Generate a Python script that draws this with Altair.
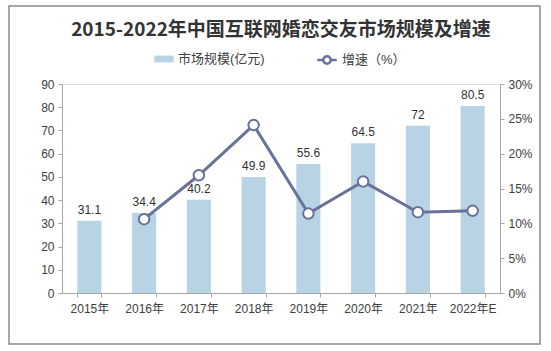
import altair as alt
import pandas as pd

years = ["2015年", "2016年", "2017年", "2018年", "2019年", "2020年", "2021年", "2022年E"]
market = [31.1, 34.4, 40.2, 49.9, 55.6, 64.5, 72, 80.5]
growth = [None, 0.106, 0.169, 0.241, 0.114, 0.160, 0.116, 0.118]

df = pd.DataFrame({"year": years, "market": market, "growth": growth,
                   "s1": "市场规模(亿元)", "s2": "增速（%）"})

FONT = "Liberation Sans, Noto Sans CJK SC, sans-serif"
BAR = "#b8d3e4"
LINE = "#68729a"
AX = "#a6a6a6"

frame = alt.Chart(pd.DataFrame({"k": [0]})).mark_rect(
    fill="transparent", stroke="#8a8a8a", strokeWidth=1.5).encode(
    x=alt.value(-53), x2=alt.value(478), y=alt.value(-78), y2=alt.value(260))

x = alt.X("year:N", sort=years, title=None,
          scale=alt.Scale(paddingInner=0.56, paddingOuter=0.28),
          axis=alt.Axis(labelAngle=0, labelFontSize=12, labelColor="#404040", labelFont=FONT,
                        domainColor=AX, tickColor=AX, tickSize=4, tickBand="extent",
                        labelPadding=6))

yl = alt.Y("market:Q", title=None,
           scale=alt.Scale(domain=[0, 90], nice=False),
           axis=alt.Axis(values=list(range(0, 91, 10)), grid=False, labelFontSize=12,
                         labelColor="#404040", labelFont=FONT, domainColor=AX,
                         tickColor=AX, tickSize=4, labelPadding=4))

bars = alt.Chart(df).mark_bar(color=BAR).encode(
    x=x,
    y=yl,
    fill=alt.Fill("s1:N", scale=alt.Scale(range=[BAR]), title=None,
                  legend=alt.Legend(orient="none", legendX=92, legendY=-35,
                                    symbolType="M-1,-0.35H1V0.35H-1Z", symbolSize=380,
                                    symbolStrokeWidth=0, labelFontSize=13, labelFont=FONT,
                                    labelColor="#404040")),
)

labels = alt.Chart(df).mark_text(dy=-11, fontSize=12, font=FONT, color="#333333").encode(
    x=alt.X("year:N", sort=years),
    y=yl,
    text=alt.Text("market:Q"),
)

left = alt.layer(bars, labels)

yr = alt.Y("growth:Q", title=None,
           scale=alt.Scale(domain=[0, 0.3], nice=False),
           axis=alt.Axis(orient="right", format=".0%", values=[0, 0.05, 0.1, 0.15, 0.2, 0.25, 0.3],
                         grid=False, labelFontSize=12, labelColor="#404040", labelFont=FONT,
                         domainColor=AX, tickColor=AX, tickSize=4, labelPadding=4))

line = alt.Chart(df).mark_line(strokeWidth=3, color=LINE).encode(
    x=alt.X("year:N", sort=years),
    y=yr,
    stroke=alt.Stroke("s2:N", scale=alt.Scale(range=[LINE]), title=None,
                      legend=alt.Legend(orient="none", legendX=254, legendY=-35,
                                        symbolType="M-1,0H-0.38M0.38,0H1M0.38,0A0.38,0.38,0,1,1,-0.38,0A0.38,0.38,0,1,1,0.38,0Z",
                                        symbolSize=380, symbolStrokeWidth=2.5,
                                        symbolFillColor="white",
                                        labelFontSize=13, labelFont=FONT, labelColor="#404040")),
)

points = alt.Chart(df).mark_point(filled=True, fill="white", stroke=LINE, strokeWidth=2,
                                  size=110, opacity=1).encode(
    x=alt.X("year:N", sort=years),
    y=yr,
)

right = alt.layer(line, points)

chart = alt.layer(frame, left, right).resolve_scale(y="independent", fill="independent",
                                                    stroke="independent").properties(
    width=438, height=209,
    autosize=alt.AutoSizeParams(type="none"),
    padding={"left": 62, "top": 84, "right": 51, "bottom": 58},
    title=alt.TitleParams("2015-2022年中国互联网婚恋交友市场规模及增速", fontSize=19,
                          font="Noto Sans CJK SC", fontWeight="bold", color="#333333",
                          anchor="middle", offset=-35),
).configure_view(strokeOpacity=0, strokeWidth=0).configure(background="white")

chart.save("out.html", embed_options={"renderer": "svg", "actions": False})
